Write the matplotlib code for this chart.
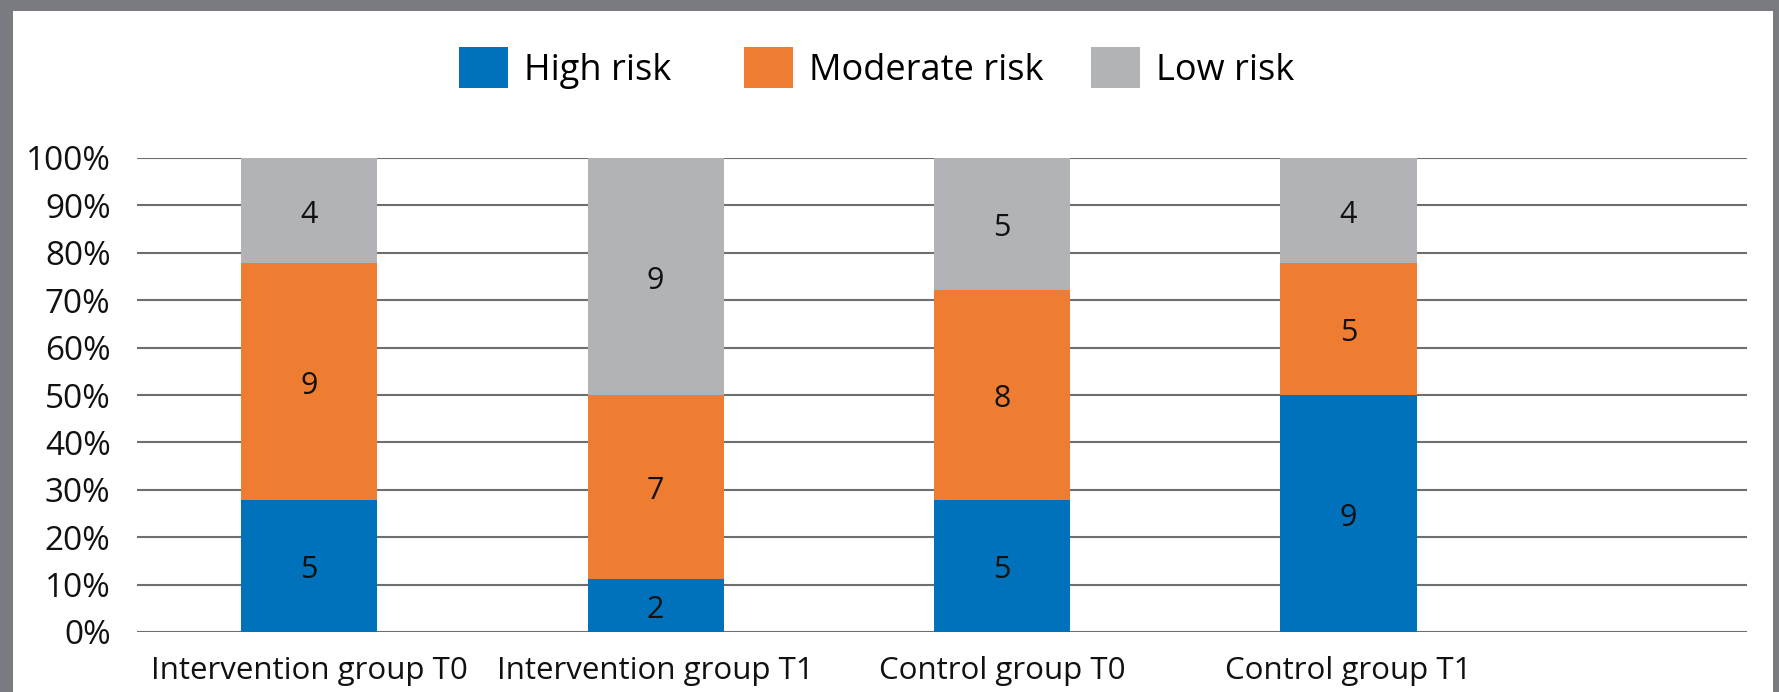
import matplotlib
matplotlib.use("Agg")
import matplotlib.pyplot as plt
from matplotlib.patches import Rectangle, Patch
import numpy as np

plt.rcParams['font.family'] = ['Open Sans', 'DejaVu Sans']

groups = ["Intervention group T0", "Intervention group T1",
          "Control group T0", "Control group T1"]
series_names = ["High risk", "Moderate risk", "Low risk"]
high_risk = [5, 2, 5, 9]
moderate_risk = [9, 7, 8, 5]
low_risk = [4, 9, 5, 4]
y_ticks = [0, 10, 20, 30, 40, 50, 60, 70, 80, 90, 100]

colors = ["#0071BB", "#EE7D31", "#B2B3B7"]

W, H = 1779, 692
fig = plt.figure(figsize=(W / 100, H / 100), dpi=100, facecolor="#797B80")
panel = Rectangle((13 / W, 0), (1773 - 13) / W, (H - 11) / H,
                  transform=fig.transFigure, facecolor="white",
                  edgecolor="none", zorder=-5)
fig.add_artist(panel)

ax = fig.add_axes([137 / W, (H - 632) / H, 1610 / W, (632 - 158) / H])
ax.set_facecolor("none")
ax.set_zorder(2)

counts = np.array([high_risk, moderate_risk, low_risk], dtype=float)
totals = counts.sum(axis=0)
shares = counts / totals * 100
x = np.arange(len(groups))
bottom = np.zeros(len(groups))
for name, cnt, pct, col in zip(series_names, counts, shares, colors):
    ax.bar(x, pct, bottom=bottom, width=0.393, color=col, zorder=3, label=name)
    for xi, b, p, c in zip(x, bottom, pct, cnt):
        ax.annotate(f"{int(c)}", (xi, b + p / 2), xytext=(0, -3),
                    textcoords="offset points", ha="center", va="center",
                    fontsize=22, color="#111111", zorder=4)
    bottom += pct

ax.set_xlim(-0.497, 4.15)
ax.set_ylim(0, 100)
ax.set_yticks(y_ticks)
ax.set_yticklabels([f"{t}%" for t in y_ticks])
ax.set_xticks(x)
ax.set_xticklabels(groups)
ax.tick_params(axis="y", length=0, pad=19, labelsize=24, labelcolor="#111111")
ax.tick_params(axis="x", length=0, pad=17, labelsize=22.5, labelcolor="#111111")
ax.grid(axis="y", color="#6E6E6E", linewidth=1.5, zorder=1)
for s in ax.spines.values():
    s.set_visible(False)

# one legend entry per series, each anchored at its own left edge
legend_left = [459, 744, 1091]
for name, col, lx in zip(series_names, colors, legend_left):
    fig.legend([Patch(facecolor=col, edgecolor="none")], [name],
               loc="center left", bbox_to_anchor=(lx / W, 1 - 68 / H),
               frameon=False, fontsize=26, handlelength=1.35,
               handleheight=1.35, handletextpad=0.45, borderpad=0,
               borderaxespad=0)

fig.savefig("out.png", dpi=100, facecolor=fig.get_facecolor())
